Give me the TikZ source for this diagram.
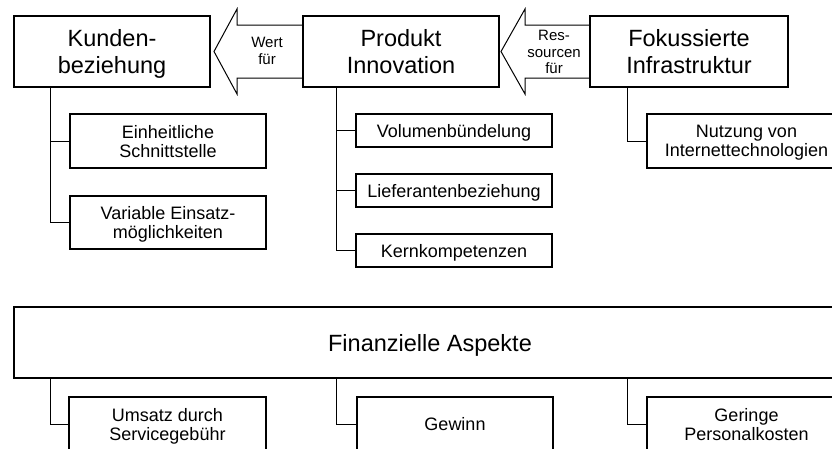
\documentclass[tikz,border=0pt]{standalone}
\usepackage{fontspec}
\setmainfont{Liberation Sans}
\usetikzlibrary{calc}
\begin{document}
\begin{tikzpicture}[x=1pt,y=-1pt,
  mainbox/.style={draw=black, line width=1.2pt, anchor=north west, inner sep=0pt, outer sep=0pt,
    align=center, text depth=0pt, font=\fontsize{23.5}{27.5}\selectfont},
  subbox/.style={draw=black, line width=1.2pt, anchor=north west, inner sep=0pt, outer sep=0pt,
    align=center, text depth=0pt, font=\fontsize{18}{19}\selectfont},
  link/.style={draw=black, line width=1pt},
  bigarrow/.style={draw=black, line width=1pt, line join=miter},
  arrowtext/.style={align=center, inner sep=0pt, font=\fontsize{15}{16.5}\selectfont}]
\useasboundingbox (0,0) rectangle (832,448);
\clip (0,0) rectangle (832,448);

% top row
\node[mainbox, minimum width=196pt, minimum height=71pt] (kb) at (14,16) {Kunden-\\beziehung};
\node[mainbox, minimum width=196pt, minimum height=71pt] (pb) at (303,16) {Produkt\\Innovation};
\node[mainbox, minimum width=198pt, minimum height=71pt] (fb) at (590,16) {Fokussierte\\Infrastruktur};

% block arrows between the top boxes
\draw[bigarrow] ($(pb.west)+(0,-26.5)$) -- ($(kb.east)+(27,-26.5)$) -- ($(kb.east)+(27,-42.5)$)
  -- ($(kb.east)+(4,0)$) -- ($(kb.east)+(27,42.5)$) -- ($(kb.east)+(27,26.5)$) -- ($(pb.west)+(0,26.5)$);
\node[arrowtext] (w) at (267,51) {Wert\\für};
\draw[bigarrow] ($(fb.west)+(0,-26.5)$) -- ($(pb.east)+(26,-26.5)$) -- ($(pb.east)+(26,-42.5)$)
  -- ($(pb.east)+(2,0)$) -- ($(pb.east)+(26,42.5)$) -- ($(pb.east)+(26,26.5)$) -- ($(fb.west)+(0,26.5)$);
\node[arrowtext] (r) at (554,52) {Res-\\sourcen\\für};

% children of Kundenbeziehung
\node[subbox, minimum width=196pt, minimum height=54pt] (k1) at (70,114) {Einheitliche\\Schnittstelle};
\node[subbox, minimum width=196pt, minimum height=53pt] (k2) at (70,196) {Variable Einsatz-\\möglichkeiten};
\draw[link] ($(kb.south west)+(36,0)$) |- (k1.west);
\draw[link] ($(kb.south west)+(36,0)$) |- (k2.west);

% children of Produkt Innovation
\node[subbox, minimum width=196pt, minimum height=33pt] (p1) at (356,114) {Volumenbündelung};
\node[subbox, minimum width=196pt, minimum height=33pt] (p2) at (356,174) {Lieferantenbeziehung};
\node[subbox, minimum width=196pt, minimum height=33pt] (p3) at (356,234) {Kernkompetenzen};
\draw[link] ($(pb.south west)+(33,0)$) |- (p1.west);
\draw[link] ($(pb.south west)+(33,0)$) |- (p2.west);
\draw[link] ($(pb.south west)+(33,0)$) |- (p3.west);

% child of Fokussierte Infrastruktur
\node[subbox, minimum width=199pt, minimum height=54pt] (f1) at (647,114) {Nutzung von\\Internettechnologien};
\draw[link] ($(fb.south west)+(37,0)$) |- (f1.west);

% financial block
\node[mainbox, minimum width=832pt, minimum height=71pt] (fin) at (14,307) {Finanzielle Aspekte};
\node[subbox, minimum width=197pt, minimum height=54pt] (a1) at (69,397) {Umsatz durch\\Servicegebühr};
\node[subbox, minimum width=196pt, minimum height=54pt] (a2) at (357,397) {Gewinn};
\node[subbox, minimum width=199pt, minimum height=54pt] (a3) at (647,397) {Geringe\\Personalkosten};
\draw[link] ($(fin.south west)+(36,0)$) |- (a1.west);
\draw[link] ($(fin.south west)+(322,0)$) |- (a2.west);
\draw[link] ($(fin.south west)+(613,0)$) |- (a3.west);
\end{tikzpicture}
\end{document}
